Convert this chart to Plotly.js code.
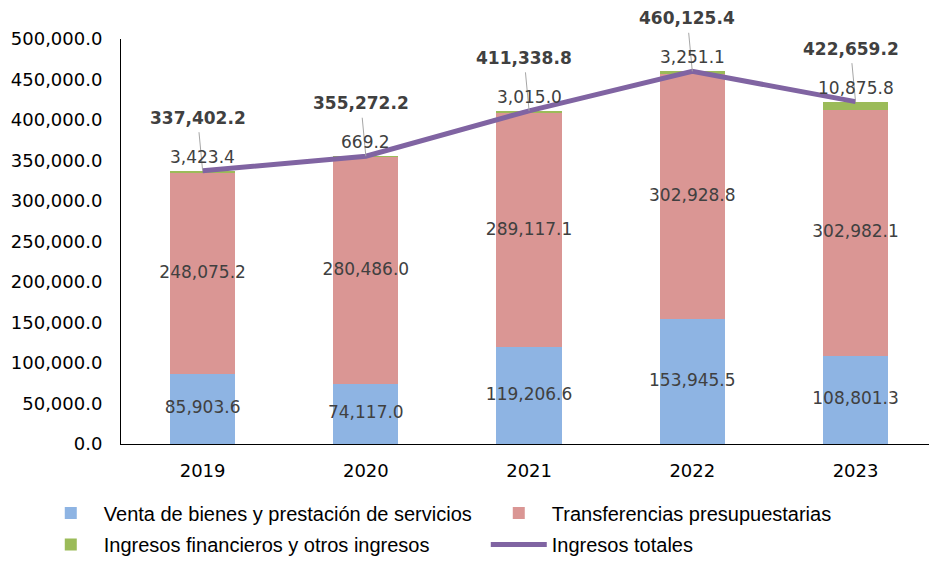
<!DOCTYPE html>
<html>
<head>
<meta charset="utf-8">
<script src="https://cdn.plot.ly/plotly-3.0.1.min.js"></script>
<style>
  html, body { margin: 0; padding: 0; background: #fff; }
  #chart { width: 929px; height: 561px; }
</style>
</head>
<body>
<div id="chart"></div>
<script>
const years = ["2019", "2020", "2021", "2022", "2023"];
const venta = [85903.6, 74117.0, 119206.6, 153945.5, 108801.3];
const transferencias = [248075.2, 280486.0, 289117.1, 302928.8, 302982.1];
const financieros = [3423.4, 669.2, 3015.0, 3251.1, 10875.8];
const totales = [337402.2, 355272.2, 411338.8, 460125.4, 422659.2];

const numFont = "DejaVu Sans";
const legFont = "Liberation Sans";
const txtColor = "#404040";

const fmt = (v) =>
  v.toLocaleString("en-US", { minimumFractionDigits: 1, maximumFractionDigits: 1 });

// mid points of each stacked segment, for the inner labels
const ventaMid = venta.map((v) => v / 2);
const transMid = transferencias.map((v, i) => venta[i] + v / 2);

const traces = [
  {
    x: years,
    y: venta,
    type: "bar",
    name: "Venta de bienes y prestación de servicios",
    marker: { color: "#8EB4E3" },
    legend: "legend",
    hoverinfo: "none",
  },
  {
    x: years,
    y: transferencias,
    type: "bar",
    name: "Transferencias presupuestarias",
    marker: { color: "#DA9694" },
    legend: "legend",
    hoverinfo: "none",
  },
  {
    x: years,
    y: financieros,
    type: "bar",
    name: "Ingresos financieros y otros ingresos",
    marker: { color: "#9BBB59" },
    legend: "legend2",
    hoverinfo: "none",
  },
  {
    x: years,
    y: totales,
    type: "scatter",
    mode: "lines",
    name: "Ingresos totales",
    line: { color: "#8064A2", width: 5 },
    legend: "legend2",
    hoverinfo: "none",
  },
  // labels inside the bars
  {
    x: years,
    y: ventaMid,
    type: "scatter",
    mode: "text",
    text: venta.map(fmt),
    textfont: { family: numFont, size: 17, color: txtColor },
    showlegend: false,
    cliponaxis: false,
    hoverinfo: "none",
  },
  {
    x: years,
    y: transMid,
    type: "scatter",
    mode: "text",
    text: transferencias.map(fmt),
    textfont: { family: numFont, size: 17, color: txtColor },
    showlegend: false,
    cliponaxis: false,
    hoverinfo: "none",
  },
];

// totals in bold with a grey leader line down to the line point
const notes = [];
years.forEach((yr, i) => {
  notes.push({
    x: i,
    y: totales[i],
    xref: "x",
    yref: "y",
    text: "<b>" + fmt(totales[i]) + "</b>",
    font: { family: numFont, size: 17, color: txtColor },
    showarrow: true,
    arrowhead: 0,
    arrowwidth: 1,
    arrowcolor: "#A6A6A6",
    ax: -5,
    ay: -53,
    borderpad: 4,
  });
  // small green value just above the stack
  notes.push({
    x: i,
    y: totales[i],
    xref: "x",
    yref: "y",
    text: fmt(financieros[i]),
    font: { family: numFont, size: 17, color: txtColor },
    showarrow: false,
    yanchor: "bottom",
    yshift: 2,
  });
});

const legendBase = {
  orientation: "h",
  traceorder: "normal",
  x: -0.103,
  xanchor: "left",
  yanchor: "top",
  entrywidth: 377,
  entrywidthmode: "pixels",
  itemwidth: 56,
  font: { family: legFont, size: 20, color: "#000" },
};

const layout = {
  width: 929,
  height: 561,
  margin: { l: 121, r: 0, t: 39, b: 117, autoexpand: false },
  paper_bgcolor: "#fff",
  plot_bgcolor: "#fff",
  barmode: "stack",
  bargap: 0.6,
  font: { family: numFont, size: 18, color: "#000" },
  xaxis: {
    type: "category",
    range: [-0.5, 4.45],
    showline: true,
    linecolor: "#000",
    linewidth: 1,
    ticks: "",
    showgrid: false,
    zeroline: false,
    ticklabelstandoff: 10,
    tickfont: { family: numFont, size: 18, color: "#000" },
  },
  yaxis: {
    range: [0, 500000],
    dtick: 50000,
    tickformat: ",.1f",
    showline: true,
    linecolor: "#000",
    linewidth: 1,
    ticks: "",
    showgrid: false,
    zeroline: false,
    ticklabelstandoff: 14,
    tickfont: { family: numFont, size: 18, color: "#000" },
  },
  showlegend: true,
  legend: Object.assign({}, legendBase, { y: -0.122 }),
  legend2: Object.assign({}, legendBase, { y: -0.2 }),
  annotations: notes,
};

Plotly.newPlot("chart", traces, layout, { displayModeBar: false, staticPlot: true });
</script>
</body>
</html>
